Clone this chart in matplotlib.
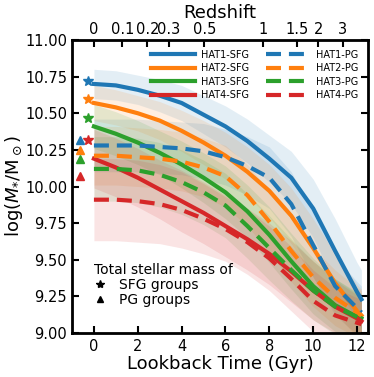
import numpy as np
import matplotlib.pyplot as plt
from matplotlib.lines import Line2D

# lookback time grid (Gyr)
t = [0, 1, 2, 3, 4, 5, 6, 7, 8, 9, 10, 11, 12, 12.2]

# median stellar mass tracks, log(M*/Msun)
sfg1 = [10.70, 10.69, 10.66, 10.62, 10.57, 10.49, 10.41, 10.31, 10.19, 10.06, 9.85, 9.56, 9.28, 9.23]
sfg2 = [10.57, 10.54, 10.50, 10.45, 10.38, 10.30, 10.21, 10.10, 9.97, 9.80, 9.58, 9.34, 9.15, 9.12]
sfg3 = [10.41, 10.36, 10.30, 10.23, 10.15, 10.06, 9.96, 9.83, 9.67, 9.49, 9.32, 9.19, 9.11, 9.10]
sfg4 = [10.19, 10.13, 10.06, 9.98, 9.90, 9.82, 9.73, 9.64, 9.54, 9.42, 9.29, 9.18, 9.10, 9.08]
pg1 = [10.28, 10.28, 10.28, 10.27, 10.26, 10.24, 10.20, 10.14, 10.06, 9.88, 9.60, 9.32, 9.17, 9.14]
pg2 = [10.21, 10.21, 10.20, 10.19, 10.17, 10.13, 10.07, 9.94, 9.76, 9.56, 9.38, 9.24, 9.14, 9.12]
pg3 = [10.12, 10.12, 10.11, 10.08, 10.03, 9.96, 9.87, 9.73, 9.58, 9.43, 9.29, 9.18, 9.11, 9.10]
pg4 = [9.91, 9.91, 9.90, 9.88, 9.84, 9.78, 9.71, 9.62, 9.51, 9.37, 9.22, 9.12, 9.07, 9.06]

# scatter (half-width of shaded bands)
sfg1_err = [0.10, 0.10, 0.10, 0.11, 0.12, 0.13, 0.14, 0.15, 0.16, 0.18, 0.20, 0.22, 0.20, 0.20]
sfg2_err = [0.12, 0.12, 0.12, 0.13, 0.14, 0.15, 0.16, 0.17, 0.18, 0.19, 0.20, 0.20, 0.18, 0.18]
sfg3_err = [0.15, 0.15, 0.15, 0.15, 0.16, 0.17, 0.18, 0.18, 0.19, 0.19, 0.19, 0.18, 0.16, 0.16]
sfg4_err = [0.20, 0.20, 0.20, 0.20, 0.21, 0.21, 0.21, 0.21, 0.21, 0.21, 0.20, 0.18, 0.16, 0.16]
pg1_err = [0.18, 0.18, 0.18, 0.18, 0.18, 0.19, 0.19, 0.20, 0.21, 0.22, 0.22, 0.20, 0.18, 0.18]
pg2_err = [0.20, 0.20, 0.20, 0.20, 0.20, 0.20, 0.21, 0.21, 0.21, 0.21, 0.20, 0.19, 0.17, 0.17]
pg3_err = [0.22, 0.22, 0.22, 0.22, 0.22, 0.22, 0.22, 0.22, 0.22, 0.21, 0.20, 0.19, 0.17, 0.17]
pg4_err = [0.28, 0.28, 0.28, 0.27, 0.26, 0.24, 0.22, 0.22, 0.22, 0.22, 0.21, 0.19, 0.17, 0.17]

# total stellar mass of groups at z=0
star_mass = [10.72, 10.60, 10.47, 10.32]
tri_mass = [10.32, 10.25, 10.19, 10.07]

labels = ["HAT1", "HAT2", "HAT3", "HAT4"]
colors = ["tab:blue", "tab:orange", "tab:green", "tab:red"]

z_ticks = [0, 0.1, 0.2, 0.3, 0.5, 1, 1.5, 2, 3]


def lookback(z, H0=70.0, Om=0.3):
    zz = np.linspace(0, z, 2000)
    E = np.sqrt(Om * (1 + zz) ** 3 + (1 - Om))
    return 977.8 / H0 * np.trapezoid(1 / ((1 + zz) * E), zz)


fig = plt.figure(figsize=(3.74, 3.77), dpi=100)
ax = fig.add_axes([0.1925, 0.1167, 0.7915, 0.7772])

sfg = [sfg1, sfg2, sfg3, sfg4]
pg = [pg1, pg2, pg3, pg4]
sfg_err = [sfg1_err, sfg2_err, sfg3_err, sfg4_err]
pg_err = [pg1_err, pg2_err, pg3_err, pg4_err]

for i in range(4):
    m, e = np.array(sfg[i]), np.array(sfg_err[i])
    ax.fill_between(t, m - e, m + e, color=colors[i], alpha=0.12, lw=0)
    m, e = np.array(pg[i]), np.array(pg_err[i])
    ax.fill_between(t, m - e, m + e, color=colors[i], alpha=0.12, lw=0)

handles = []
for i in range(4):
    h, = ax.plot(t, sfg[i], color=colors[i], lw=3, label=labels[i] + "-SFG")
    handles.append(h)
for i in range(4):
    h, = ax.plot(t, pg[i], color=colors[i], lw=3, ls=(0, (3.6, 1.9)), label=labels[i] + "-PG")
    handles.append(h)

for i in range(4):
    ax.plot(-0.25, star_mass[i], marker="*", ms=7, color=colors[i], ls="none")
    ax.plot(-0.65, tri_mass[i], marker="^", ms=6, color=colors[i], ls="none")

ax.set_xlim(-1, 12.5)
ax.set_ylim(9.0, 11.0)
ax.set_xticks([0, 2, 4, 6, 8, 10, 12])
ax.set_yticks([9.0, 9.25, 9.5, 9.75, 10.0, 10.25, 10.5, 10.75, 11.0])
ax.yaxis.set_major_formatter(plt.FormatStrFormatter("%.2f"))
ax.tick_params(direction="in", length=5, width=1.5, labelsize=10.5, right=True)
ax.tick_params(axis="x", pad=4)
for s in ax.spines.values():
    s.set_linewidth(2)

ax.set_xlabel("Lookback Time (Gyr)", fontsize=13, labelpad=1)
ax.set_ylabel(r"$\log(M_{*}/\mathrm{M}_\odot)$", fontsize=13, labelpad=0)

top = ax.twiny()
top.set_xlim(ax.get_xlim())
top.set_xticks([lookback(z) for z in z_ticks])
top.set_xticklabels([str(z) for z in z_ticks])
top.tick_params(direction="in", length=5, width=1.5, labelsize=10.5, pad=2)
top.set_xlabel("Redshift", fontsize=13, labelpad=3)

leg = ax.legend(handles=handles, ncol=2, loc="upper right", frameon=False,
                fontsize=7, handlelength=4.5, handletextpad=0.6,
                columnspacing=1.8, labelspacing=0.35, borderaxespad=0.6)
ax.add_artist(leg)

mk = [Line2D([], [], marker="*", color="k", ls="none", ms=6),
      Line2D([], [], marker="^", color="k", ls="none", ms=4)]
leg2 = ax.legend(mk, ["SFG groups", "PG groups"], loc="lower left",
                 bbox_to_anchor=(0.075, 0.09), frameon=False, fontsize=10,
                 title="Total stellar mass of", title_fontsize=10,
                 handlelength=0.8, handletextpad=1.0, labelspacing=0.05,
                 borderpad=0, borderaxespad=0)
leg2._legend_box.align = "left"

fig.savefig("out.png", dpi=100)
